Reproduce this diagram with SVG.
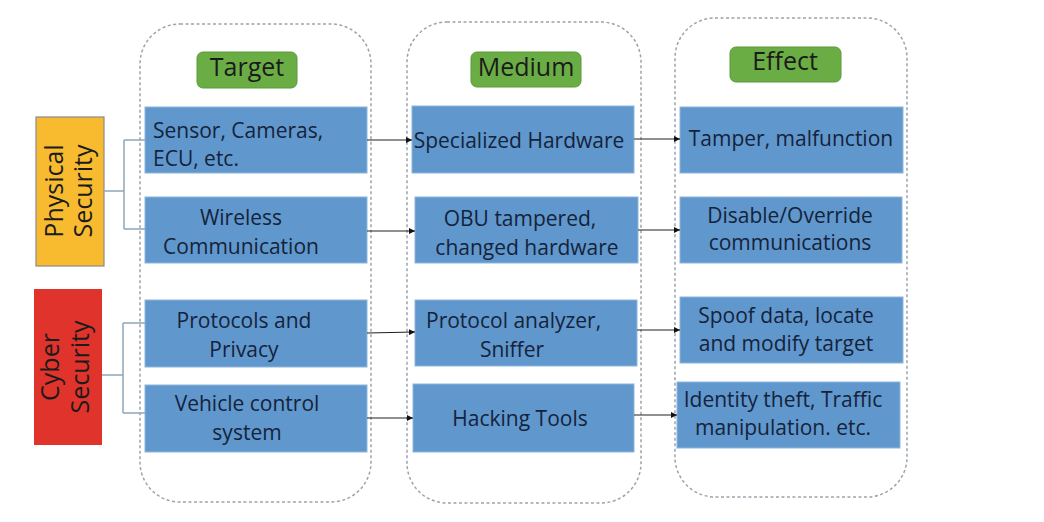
<svg xmlns="http://www.w3.org/2000/svg" width="1044" height="522" viewBox="0 0 1044 522">
<style>
.col{fill:none;stroke:#9aa4ad;stroke-width:1.5;stroke-dasharray:3,2.5}
.hdr{fill:#6aad45;stroke:#5a9a3a;stroke-width:1}
.hdrt{font-family:"Open Sans",sans-serif;font-size:25px;fill:#1b1b1b;text-anchor:middle}
.box{fill:#6097cd;stroke:#8db6dd;stroke-width:1}
.t{font-family:"Open Sans",sans-serif;font-size:21px;fill:#15233a;text-anchor:middle}
.side{font-family:"Open Sans",sans-serif;font-size:25px;fill:#1b1b1b;text-anchor:middle}
.arr{fill:none;stroke:#222;stroke-width:1.2;marker-end:url(#ah)}
.br{fill:none;stroke:#8fa6b8;stroke-width:1.5}
</style>
<defs>
<marker id="ah" viewBox="0 0 10 10" refX="10" refY="5" markerWidth="6" markerHeight="6" markerUnits="userSpaceOnUse" orient="auto">
<path d="M0,0 L10,5 L0,10 z" fill="#111"/>
</marker>
</defs>
<rect width="1044" height="522" fill="#ffffff"/>

<g id="col-target">
<rect class="col" x="140" y="24" width="231" height="478" rx="40"/>
<rect class="hdr" x="197" y="52" width="100" height="36" rx="6"/>
<text class="hdrt" x="247" y="76">Target</text>
</g>
<g id="col-medium">
<rect class="col" x="407" y="22" width="234" height="481" rx="40"/>
<rect class="hdr" x="471" y="52" width="110" height="35" rx="6"/>
<text class="hdrt" x="526" y="76">Medium</text>
</g>
<g id="col-effect">
<rect class="col" x="675" y="18" width="232" height="479" rx="40"/>
<rect class="hdr" x="730" y="47" width="111" height="35" rx="6"/>
<text class="hdrt" x="785" y="70">Effect</text>
</g>

<g id="physical-security">
<rect x="36" y="117" width="68" height="149" fill="#f8bb30" stroke="#8a8a8a" stroke-width="1.2"/>
<text class="side" transform="translate(63,191) rotate(-90)" x="0" y="0">Physical</text>
<text class="side" transform="translate(92,191) rotate(-90)" x="0" y="0">Security</text>
</g>
<g id="cyber-security">
<rect x="34" y="289" width="68" height="156" fill="#e0332b"/>
<text class="side" transform="translate(59,367) rotate(-90)" x="0" y="0">Cyber</text>
<text class="side" transform="translate(89,367) rotate(-90)" x="0" y="0">Security</text>
</g>

<g id="t1"><rect class="box" x="145" y="107" width="222" height="66"/>
<text class="t" x="153" y="138" style="text-anchor:start">Sensor, Cameras,</text>
<text class="t" x="153" y="166" style="text-anchor:start">ECU, etc.</text></g>
<g id="t2"><rect class="box" x="145" y="197" width="222" height="66"/>
<text class="t" x="241" y="225">Wireless</text>
<text class="t" x="241" y="254">Communication</text></g>
<g id="t3"><rect class="box" x="145" y="300" width="222" height="67"/>
<text class="t" x="244" y="328">Protocols and</text>
<text class="t" x="244" y="357">Privacy</text></g>
<g id="t4"><rect class="box" x="145" y="385" width="222" height="67"/>
<text class="t" x="247" y="411">Vehicle control</text>
<text class="t" x="247" y="440">system</text></g>

<g id="m1"><rect class="box" x="412" y="106" width="222" height="67"/>
<text class="t" x="519" y="148">Specialized  Hardware</text></g>
<g id="m2"><rect class="box" x="415" y="197" width="223" height="66"/>
<text class="t" x="520" y="226">OBU tampered,</text>
<text class="t" x="527" y="255">changed hardware</text></g>
<g id="m3"><rect class="box" x="415" y="300" width="222" height="66"/>
<text class="t" x="426" y="328" style="text-anchor:start">Protocol analyzer,</text>
<text class="t" x="512" y="357">Sniffer</text></g>
<g id="m4"><rect class="box" x="413" y="384" width="221" height="68"/>
<text class="t" x="520" y="426">Hacking Tools</text></g>

<g id="e1"><rect class="box" x="680" y="107" width="223" height="66"/>
<text class="t" x="791" y="146">Tamper, malfunction</text></g>
<g id="e2"><rect class="box" x="680" y="197" width="222" height="66"/>
<text class="t" x="790" y="223">Disable/Override</text>
<text class="t" x="790" y="250">communications</text></g>
<g id="e3"><rect class="box" x="680" y="297" width="223" height="66"/>
<text class="t" x="786" y="323">Spoof data, locate</text>
<text class="t" x="786" y="351">and modify target</text></g>
<g id="e4"><rect class="box" x="677" y="382" width="223" height="66"/>
<text class="t" x="783" y="407">Identity theft, Traffic</text>
<text class="t" x="783" y="435">manipulation. etc.</text></g>

<g id="connectors">
<path class="br" d="M104,191 H124 M124,140 V229 M124,140 H145 M124,229 H145"/>
<path class="br" d="M102,375 H123 M123,323 V413 M123,323 H145 M123,413 H145"/>
<line class="arr" x1="367" y1="140" x2="412" y2="140"/>
<line class="arr" x1="367" y1="231" x2="415" y2="231"/>
<line class="arr" x1="367" y1="333" x2="415" y2="332"/>
<line class="arr" x1="367" y1="418" x2="413" y2="418"/>
<line class="arr" x1="634" y1="139" x2="680" y2="139"/>
<line class="arr" x1="638" y1="230" x2="680" y2="230"/>
<line class="arr" x1="637" y1="330" x2="680" y2="330"/>
<line class="arr" x1="634" y1="415" x2="677" y2="415"/>
</g>
</svg>
